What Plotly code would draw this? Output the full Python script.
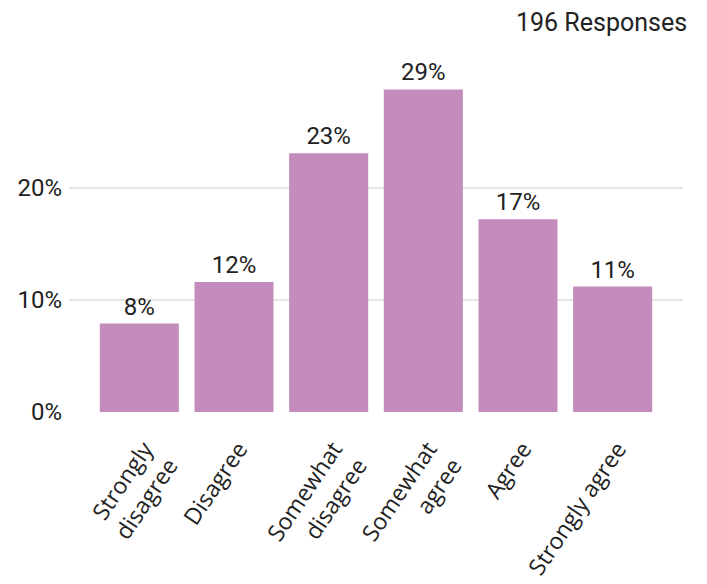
import plotly.graph_objects as go

categories = ["Strongly<br>disagree", "Disagree", "Somewhat<br>disagree", "Somewhat<br>agree", "Agree", "Strongly agree"]
values = [7.9, 11.6, 23.1, 28.8, 17.2, 11.2]
labels = ["8%", "12%", "23%", "29%", "17%", "11%"]
responses_text = "196 Responses"

fig = go.Figure(go.Bar(
    x=categories, y=values, text=labels, textposition="outside",
    textfont=dict(family="Roboto", size=24, color="#222222"),
    marker=dict(color="#C38CBD", line=dict(width=0)),
    width=0.835, cliponaxis=False, hoverinfo="skip",
))

fig.update_layout(
    width=707, height=584,
    margin=dict(l=61, r=32, t=68, b=180),
    plot_bgcolor="white", paper_bgcolor="white",
    showlegend=False,
    font=dict(family="Roboto", size=24, color="#222222"),
    xaxis=dict(range=[-0.743, 5.743], tickangle=-56, showgrid=False, zeroline=False,
               showline=False, ticks="", automargin=False, ticklabelstandoff=18,
               ticklabelshift=5,
               tickfont=dict(family="Open Sans", size=23, color="#222222")),
    yaxis=dict(range=[0, 30], tickvals=[0, 10, 20], ticktext=["0%", "10%", "20%"],
               showgrid=True, gridcolor="#E6E6E6", gridwidth=2, zeroline=False,
               ticks="", ticklabelstandoff=6, automargin=False,
               tickfont=dict(family="Roboto", size=24, color="#222222")),
    annotations=[dict(text=responses_text, xref="paper", yref="paper", x=1, y=1,
                      xanchor="right", yanchor="middle", xshift=6, yshift=54,
                      showarrow=False,
                      font=dict(family="Roboto", size=25, color="#222222"))],
)

fig.write_html("out.html")
